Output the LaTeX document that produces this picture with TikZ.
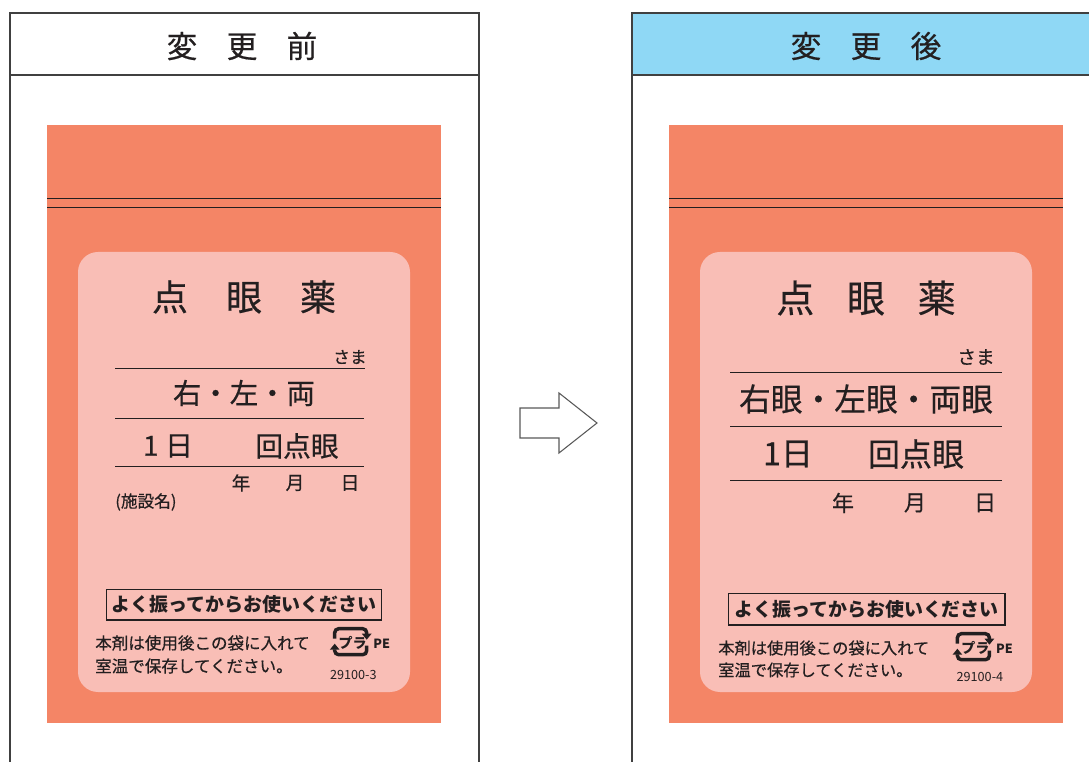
\documentclass[tikz,border=0pt]{standalone}
\usepackage{fontspec}
\setmainfont{Noto Sans CJK JP}
\newfontfamily\medfont{Noto Sans CJK JP}[FakeBold=0.5]
\usetikzlibrary{arrows.meta}
\definecolor{bagorange}{RGB}{244,133,102}
\definecolor{labelpink}{RGB}{249,190,182}
\definecolor{headblue}{RGB}{143,216,245}
\definecolor{ink}{RGB}{35,31,32}
\begin{document}
\begin{tikzpicture}[x=0.75pt,y=-0.75pt,
  every node/.style={inner sep=0pt,text=ink,font=\medfont},
  frame/.style={draw=black!75,line width=0.8pt},
  rule/.style={draw=ink,line width=0.9pt},
  plaline/.style={draw=ink,line width=2.6pt,rounded corners=3pt},
  warnbox/.style={draw=ink,line width=0.9pt,font=\normalfont\fontsize{14.2pt}{16pt}\selectfont\bfseries}]
\useasboundingbox (0,0) rectangle (1089,762);
\clip (0,0) rectangle (1089,762);

%panels
\draw[frame] (10,13) rectangle (479,800);
\draw[frame] (10,75) -- (479,75);
\draw[frame,fill=headblue] (632,13) rectangle (1100,75);
\draw[frame] (632,75) -- (632,800);
\node (headL) at (242,46) {\fontsize{23pt}{25pt}\selectfont 変\hspace{22pt}更\hspace{22pt}前};
\node (headR) at (866,46) {\fontsize{23pt}{25pt}\selectfont 変\hspace{22pt}更\hspace{22pt}後};

%arrow
\draw[draw=black!65,line width=0.8pt,fill=white]
  (520,408) -- (559,408) -- (559,393) -- (597,423) -- (559,453) -- (559,438) -- (520,438) -- cycle;

%bags
\foreach \o in {0,622}{
  \fill[bagorange] (47+\o,125) rectangle (441+\o,723);
  \draw[rule] (47+\o,198.3) -- (441+\o,198.3);
  \draw[rule] (47+\o,207.3) -- (441+\o,207.3);
  \fill[labelpink,rounded corners=15pt] (78+\o,252) rectangle (410+\o,692);
}

%before
\node (titleL) at (244,297) {\fontsize{27pt}{30pt}\selectfont 点\hspace{28.5pt}眼\hspace{28.5pt}薬};
\node (samaL) at (350,357) {\fontsize{12.5pt}{14pt}\selectfont さま};
\draw[rule] (115,368.5) -- (365,368.5);
\node (eyeL) at (244,393) {\fontsize{21.3pt}{24pt}\selectfont 右・左・両};
\draw[rule] (115,418.3) -- (364,418.3);
\node (dayL) at (168,446) {\fontsize{20.8pt}{23pt}\selectfont 1\hspace{5pt}日};
\node (timesL) at (297,446) {\fontsize{20.8pt}{23pt}\selectfont 回点眼};
\draw[rule] (115,466.7) -- (364,466.7);
\node (yearL) at (241,483) {\fontsize{14pt}{16pt}\selectfont 年};
\node (monthL) at (295,483) {\fontsize{14pt}{16pt}\selectfont 月};
\node (dateL) at (350,483) {\fontsize{14pt}{16pt}\selectfont 日};
\node[anchor=west] (siteL) at (115,502) {\fontsize{12.5pt}{14pt}\selectfont (施設名)};
\node[warnbox,minimum width=206.8pt,minimum height=23pt] (shakeL) at (244,604.6) {よく振ってからお使いください};
\node[anchor=west] (noteL1) at (95,643) {\fontsize{12.4pt}{14pt}\selectfont 本剤は使用後この袋に入れて};
\node[anchor=west] (noteL2) at (95,666) {\fontsize{12.4pt}{14pt}\selectfont 室温で保存してください。};

%after
\node (titleR) at (866,298) {\fontsize{28.5pt}{31pt}\selectfont 点\hspace{24.5pt}眼\hspace{24.5pt}薬};
\node (samaR) at (976,357) {\fontsize{14pt}{16pt}\selectfont さま};
\draw[rule] (730,372.3) -- (1002,372.3);
\node (eyeR) at (866,399) {\fontsize{23.8pt}{26pt}\selectfont 右眼・左眼・両眼};
\draw[rule] (730,426.7) -- (1002,426.7);
\node (dayR) at (788,454) {\fontsize{24pt}{26pt}\selectfont 1日};
\node (timesR) at (916,454) {\fontsize{24pt}{26pt}\selectfont 回点眼};
\draw[rule] (730,480.7) -- (1002,480.7);
\node (yearR) at (843,503) {\fontsize{16.5pt}{18pt}\selectfont 年};
\node (monthR) at (915,503) {\fontsize{16.5pt}{18pt}\selectfont 月};
\node (dateR) at (985,503) {\fontsize{16.5pt}{18pt}\selectfont 日};
\node[warnbox,minimum width=207.5pt,minimum height=23.8pt] (shakeR) at (866.7,609.2) {よく振ってからお使いください};
\node[anchor=west] (noteR1) at (718,648) {\fontsize{12.2pt}{14pt}\selectfont 本剤は使用後この袋に入れて};
\node[anchor=west] (noteR2) at (718,670) {\fontsize{12.2pt}{14pt}\selectfont 室温で保存してください。};

%recycle marks
\foreach \mx/\my/\cx/\cy/\num/\n in {351.7/641.7/353.3/675/29100-3/L, 974.4/646.7/979.9/677/29100-4/R}{
  \begin{scope}[shift={(\mx,\my)}]
    \draw[plaline,-{Triangle[length=4.5pt,width=7pt]}] (-17,-3) |- (15,-13) -- (15,-2);
    \draw[plaline,-{Triangle[length=4.5pt,width=7pt]}] (15,4) |- (-17,13) -- (-17,2);
    \node (pla\n) at (1,1) {\normalfont\fontsize{10.5pt}{11pt}\selectfont\bfseries プラ};
    \node (pe\n) at (30,2) {\normalfont\fontsize{9.5pt}{10pt}\selectfont\bfseries PE};
  \end{scope}
  \node (code\n) at (\cx,\cy) {\normalfont\fontsize{9.5pt}{11pt}\selectfont \num};
}
\end{tikzpicture}
\end{document}
